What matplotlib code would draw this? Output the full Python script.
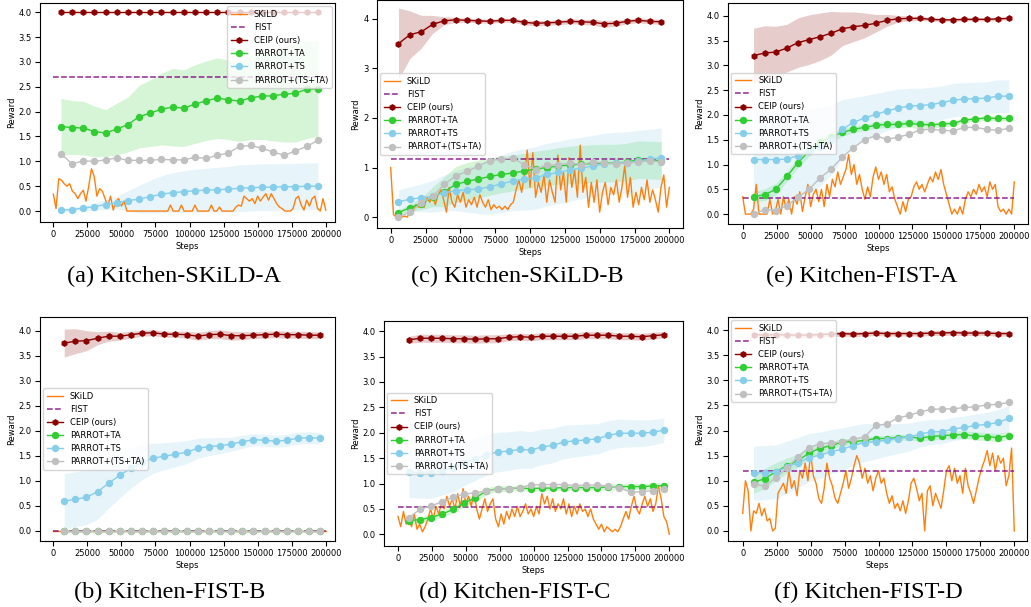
import matplotlib
matplotlib.use("Agg")
import matplotlib.pyplot as plt

# ---------------- data ----------------
steps_early = [5600, 13800, 22000, 30200, 38400, 46600, 54800, 63000, 71200, 79400,
               87600, 95800, 104000, 112200, 120400, 128600, 136800, 145000, 153200,
               161400, 169600, 177800, 186000, 194200]
steps_late = [8000, 16170, 24340, 32510, 40680, 48850, 57020, 65190, 73360, 81530,
              89700, 97870, 106040, 114210, 122380, 130550, 138720, 146890, 155060,
              163230, 171400, 179570, 187740, 195910]
skild_steps = list(range(0, 200001, 2000))
xticks = [0, 25000, 50000, 75000, 100000, 125000, 150000, 175000, 200000]

labels = ["SKiLD", "FIST", "CEIP (ours)", "PARROT+TA", "PARROT+TS", "PARROT+(TS+TA)"]
captions = {"a": "(a) Kitchen-SKiLD-A", "b": "(b) Kitchen-FIST-B", "c": "(c) Kitchen-SKiLD-B",
            "d": "(d) Kitchen-FIST-C", "e": "(e) Kitchen-FIST-A", "f": "(f) Kitchen-FIST-D"}

# ---- panel a: Kitchen-SKiLD-A
fist_a = 2.7
ceip_a = [4.0] * 24
ceip_a_std = [0.0] * 24
ta_a = [1.70, 1.68, 1.67, 1.60, 1.57, 1.65, 1.74, 1.90, 1.97, 2.05, 2.09, 2.07, 2.15, 2.22,
        2.27, 2.24, 2.21, 2.28, 2.31, 2.32, 2.35, 2.37, 2.45, 2.46]
ta_a_std = [0.57, 0.54, 0.54, 0.51, 0.47, 0.52, 0.55, 0.63, 0.67, 0.72, 0.78, 0.77, 0.79, 0.80,
            0.81, 0.80, 0.81, 0.84, 0.87, 0.91, 0.96, 0.98, 0.99, 0.96]
ts_a = [0.02, 0.03, 0.06, 0.09, 0.13, 0.17, 0.21, 0.24, 0.29, 0.34, 0.37, 0.39, 0.41, 0.42,
        0.43, 0.44, 0.46, 0.47, 0.48, 0.48, 0.49, 0.49, 0.50, 0.50]
ts_a_std = [0.03, 0.04, 0.05, 0.07, 0.10, 0.13, 0.20, 0.28, 0.33, 0.37, 0.40, 0.42, 0.43, 0.44,
            0.45, 0.46, 0.47, 0.47, 0.47, 0.47, 0.47, 0.47, 0.47, 0.47]
tsta_a = [1.15, 0.95, 1.01, 1.00, 1.03, 1.07, 1.02, 1.02, 1.02, 1.04, 1.03, 1.03, 1.08, 1.06,
          1.12, 1.17, 1.30, 1.32, 1.26, 1.19, 1.12, 1.21, 1.30, 1.42]
skild_a = [0.34, 0.05, 0.65, 0.62, 0.55, 0.50, 0.55, 0.40, 0.35, 0.25,
           0.35, 0.42, 0.20, 0.50, 0.85, 0.70, 0.30, 0.45, 0.40, 0.25,
           0.10, 0.30, 0.02, 0.20, 0.25, 0.10, 0.20, 0.0, 0.0, 0.0,
           0.0, 0.0, 0.0, 0.0, 0.0, 0.0, 0.0, 0.0, 0.0, 0.0,
           0.0, 0.0, 0.0, 0.12, 0.0, 0.0, 0.0, 0.12, 0.0, 0.0,
           0.0, 0.0, 0.12, 0.0, 0.0, 0.0, 0.0, 0.0, 0.12, 0.0,
           0.0, 0.08, 0.0, 0.0, 0.0, 0.0, 0.0, 0.08, 0.12, 0.10,
           0.30, 0.25, 0.20, 0.25, 0.15, 0.30, 0.20, 0.28, 0.35, 0.22,
           0.35, 0.25, 0.15, 0.08, 0.05, 0.0, 0.0, 0.0, 0.05, 0.25,
           0.30, 0.12, 0.02, 0.22, 0.10, 0.25, 0.30, 0.05, 0.0, 0.25,
           0.02]

# ---- panel c: Kitchen-SKiLD-B
fist_c = 1.17
ceip_c = [3.50, 3.68, 3.74, 3.89, 3.96, 3.98, 3.97, 3.96, 3.95, 3.97, 3.97, 3.93, 3.91, 3.92,
          3.93, 3.95, 3.94, 3.93, 3.90, 3.91, 3.95, 3.97, 3.95, 3.94]
ceip_c_std = [0.72, 0.48, 0.33, 0.18, 0.08, 0.05, 0.04, 0.04, 0.04, 0.04, 0.04, 0.05, 0.05, 0.05,
              0.05, 0.05, 0.05, 0.06, 0.07, 0.06, 0.05, 0.05, 0.05, 0.05]
ta_c = [0.09, 0.19, 0.27, 0.41, 0.51, 0.66, 0.72, 0.77, 0.82, 0.86, 0.89, 0.93, 0.97, 1.00,
        1.03, 1.05, 1.07, 1.08, 1.09, 1.09, 1.11, 1.16, 1.15, 1.14]
ta_c_std = [0.05, 0.08, 0.12, 0.20, 0.30, 0.36, 0.38, 0.38, 0.38, 0.37, 0.36, 0.36, 0.36, 0.36,
            0.37, 0.38, 0.38, 0.38, 0.38, 0.38, 0.38, 0.38, 0.38, 0.38]
ts_c = [0.31, 0.36, 0.39, 0.42, 0.49, 0.53, 0.55, 0.57, 0.61, 0.67, 0.73, 0.76, 0.79, 0.86,
        0.90, 0.95, 0.99, 1.03, 1.07, 1.09, 1.10, 1.13, 1.17, 1.20]
ts_c_std = [0.24, 0.25, 0.28, 0.32, 0.36, 0.40, 0.45, 0.50, 0.55, 0.58, 0.60, 0.62, 0.63, 0.63,
            0.63, 0.63, 0.62, 0.62, 0.62, 0.62, 0.62, 0.62, 0.60, 0.60]
tsta_c = [0.0, 0.10, 0.28, 0.42, 0.66, 0.83, 0.92, 1.03, 1.14, 1.17, 1.19, 1.06, 0.96, 1.06,
          1.05, 1.09, 1.06, 1.11, 1.09, 1.07, 1.09, 1.11, 1.14, 1.11]
skild_c = [1.0, 0.05, 0.0, 0.05, 0.0, 0.02, 0.0, 0.15, 0.10, 0.25,
           0.20, 0.35, 0.20, 0.40, 0.30, 0.45, 0.25, 0.45, 0.55, 0.35,
           0.10, 0.60, 0.30, 0.20, 0.45, 0.30, 0.50, 0.20, 0.35, 0.25,
           0.40, 0.20, 0.45, 0.30, 0.20, 0.35, 0.15, 0.25, 0.18, 0.22,
           0.15, 0.22, 0.15, 0.25, 0.30, 0.55, 0.75, 0.50, 0.85, 1.35,
           0.60, 1.30, 0.40, 0.70, 0.50, 0.85, 0.30, 0.75, 0.50, 0.30,
           1.25, 0.55, 0.90, 0.30, 1.20, 0.60, 0.95, 0.40, 1.45, 0.50,
           0.80, 0.20, 0.70, 0.30, 0.75, 0.10, 0.50, 0.70, 0.25, 0.60,
           0.45, 0.75, 0.30, 0.60, 1.05, 0.40, 0.80, 0.20, 0.50, 0.25,
           0.60, 0.35, 0.75, 0.30, 0.55, 0.35, 0.10, 0.60, 0.85, 0.20,
           0.60]

# ---- panel e: Kitchen-FIST-A
fist_e = 0.33
ceip_e = [3.20, 3.25, 3.27, 3.35, 3.46, 3.52, 3.58, 3.65, 3.74, 3.78, 3.81, 3.85, 3.91, 3.94,
          3.95, 3.95, 3.93, 3.92, 3.92, 3.93, 3.93, 3.93, 3.94, 3.95]
ceip_e_std = [0.55, 0.55, 0.52, 0.48, 0.50, 0.50, 0.48, 0.44, 0.34, 0.30, 0.25, 0.18, 0.12, 0.07,
              0.05, 0.04, 0.04, 0.03, 0.03, 0.03, 0.03, 0.03, 0.03, 0.03]
ta_e = [0.35, 0.39, 0.50, 0.76, 1.04, 1.27, 1.45, 1.55, 1.65, 1.71, 1.75, 1.79, 1.81, 1.81,
        1.83, 1.81, 1.80, 1.82, 1.83, 1.90, 1.92, 1.94, 1.93, 1.93]
ta_e_std = [0.10, 0.12, 0.12, 0.10, 0.10, 0.10, 0.10, 0.10, 0.08, 0.07, 0.06, 0.06, 0.07, 0.07,
            0.08, 0.08, 0.07, 0.06, 0.05, 0.05, 0.05, 0.05, 0.05, 0.05]
ts_e = [1.10, 1.10, 1.10, 1.11, 1.18, 1.27, 1.36, 1.50, 1.71, 1.85, 1.94, 2.01, 2.08, 2.14,
        2.18, 2.19, 2.21, 2.25, 2.30, 2.32, 2.33, 2.34, 2.38, 2.38]
ts_e_std = [1.00, 1.00, 1.00, 0.95, 0.90, 0.85, 0.80, 0.70, 0.60, 0.50, 0.45, 0.42, 0.40, 0.38,
            0.36, 0.35, 0.35, 0.34, 0.34, 0.33, 0.33, 0.33, 0.33, 0.33]
tsta_e = [0.0, 0.09, 0.07, 0.17, 0.34, 0.50, 0.73, 0.91, 1.15, 1.34, 1.50, 1.58, 1.51, 1.55,
          1.61, 1.70, 1.71, 1.69, 1.68, 1.75, 1.75, 1.71, 1.69, 1.73]
skild_e = [0.35, 0.0, 0.0, 0.0, 0.10, 0.60, 0.0, 0.0, 0.0, 0.0,
           0.30, 0.0, 0.05, 0.30, 0.0, 0.35, 0.10, 0.30, 0.0, 0.35,
           0.20, 0.45, 0.05, 0.35, 0.60, 0.15, 0.40, 0.50, 0.25, 0.50,
           0.15, 0.60, 0.35, 0.70, 0.55, 0.85, 0.60, 0.75, 0.90, 1.20,
           0.80, 1.00, 0.60, 0.80, 0.50, 0.30, 0.55, 0.35, 0.75, 0.95,
           0.70, 0.85, 0.60, 0.80, 0.45, 0.55, 0.30, 0.15, 0.0, 0.25,
           0.05, 0.30, 0.35, 0.55, 0.65, 0.50, 0.60, 0.45, 0.60, 0.75,
           0.65, 0.85, 0.70, 0.90, 0.60, 0.40, 0.20, 0.0, 0.10, 0.0,
           0.15, 0.0, 0.30, 0.45, 0.35, 0.50, 0.40, 0.60, 0.45, 0.55,
           0.35, 0.65, 0.50, 0.60, 0.15, 0.05, 0.10, 0.0, 0.10, 0.0,
           0.65]

# ---- panel b: Kitchen-FIST-B
fist_b = 0.0
ceip_b = [3.75, 3.79, 3.80, 3.85, 3.89, 3.89, 3.92, 3.95, 3.96, 3.93, 3.93, 3.92, 3.89, 3.92,
          3.93, 3.90, 3.90, 3.91, 3.92, 3.93, 3.92, 3.92, 3.91, 3.91]
ceip_b_std = [0.28, 0.25, 0.20, 0.13, 0.10, 0.08, 0.07, 0.06, 0.06, 0.06, 0.06, 0.07, 0.08, 0.08,
              0.09, 0.09, 0.08, 0.07, 0.07, 0.07, 0.07, 0.07, 0.07, 0.07]
ta_b = [0.0] * 24
ta_b_std = [0.0] * 24
ts_b = [0.59, 0.63, 0.67, 0.78, 0.95, 1.11, 1.25, 1.37, 1.45, 1.49, 1.53, 1.57, 1.65, 1.68,
        1.70, 1.73, 1.78, 1.82, 1.81, 1.79, 1.81, 1.85, 1.86, 1.85]
ts_b_std = [0.55, 0.55, 0.55, 0.55, 0.50, 0.45, 0.40, 0.35, 0.30, 0.27, 0.25, 0.23, 0.20, 0.18,
            0.16, 0.14, 0.13, 0.12, 0.12, 0.12, 0.12, 0.12, 0.12, 0.11]
tsta_b = [0.0] * 24
skild_b = [0.0] * 101

# ---- panel d: Kitchen-FIST-C
fist_d = 0.53
ceip_d = [3.83, 3.86, 3.86, 3.86, 3.85, 3.85, 3.84, 3.85, 3.85, 3.88, 3.89, 3.88, 3.90, 3.90,
          3.90, 3.90, 3.92, 3.92, 3.92, 3.90, 3.90, 3.89, 3.91, 3.93]
ceip_d_std = [0.07, 0.08, 0.08, 0.08, 0.08, 0.08, 0.08, 0.08, 0.08, 0.07, 0.07, 0.07, 0.07, 0.07,
              0.07, 0.07, 0.07, 0.07, 0.07, 0.07, 0.07, 0.07, 0.07, 0.06]
ta_d = [0.27, 0.29, 0.33, 0.40, 0.49, 0.62, 0.72, 0.85, 0.90, 0.90, 0.91, 0.90, 0.91, 0.91,
        0.92, 0.92, 0.92, 0.92, 0.93, 0.94, 0.94, 0.94, 0.95, 0.96]
ta_d_std = [0.06, 0.06, 0.06, 0.07, 0.07, 0.08, 0.08, 0.07, 0.06, 0.05, 0.05, 0.05, 0.05, 0.05,
            0.05, 0.05, 0.05, 0.05, 0.06, 0.06, 0.06, 0.06, 0.06, 0.06]
ts_d = [1.23, 1.21, 1.21, 1.25, 1.30, 1.40, 1.48, 1.57, 1.62, 1.64, 1.67, 1.66, 1.72, 1.75,
        1.82, 1.84, 1.86, 1.88, 1.95, 1.99, 1.99, 1.99, 2.01, 2.05]
ts_d_std = [0.50, 0.50, 0.50, 0.48, 0.46, 0.44, 0.42, 0.40, 0.39, 0.38, 0.37, 0.36, 0.35, 0.34,
            0.33, 0.32, 0.31, 0.30, 0.29, 0.28, 0.27, 0.26, 0.25, 0.24]
tsta_d = [0.33, 0.49, 0.56, 0.64, 0.74, 0.79, 0.82, 0.85, 0.89, 0.90, 0.92, 0.97, 0.98, 0.98,
          0.98, 0.96, 0.97, 0.97, 0.95, 0.92, 0.83, 0.84, 0.86, 0.89]
skild_d = [0.35, 0.15, 0.45, 0.20, 0.30, 0.15, 0.40, 0.10, 0.20, 0.05,
           0.15, 0.30, 0.50, 0.30, 0.55, 0.40, 0.60, 0.50, 0.75, 0.55,
           0.70, 0.50, 0.80, 0.55, 0.90, 0.60, 0.75, 0.55, 0.85, 0.50,
           0.30, 0.50, 0.70, 0.45, 0.60, 0.70, 0.30, 0.15, 0.40, 0.20,
           0.45, 0.30, 0.50, 0.35, 0.55, 0.35, 0.45, 0.60, 0.40, 0.50,
           0.35, 0.55, 0.40, 0.80, 0.60, 0.75, 0.50, 0.70, 0.45, 0.60,
           0.50, 0.70, 0.40, 0.60, 0.35, 0.55, 0.40, 0.60, 0.45, 0.50,
           0.35, 0.50, 0.30, 0.20, 0.10, 0.20, 0.05, 0.15, 0.10, 0.05,
           0.10, 0.05, 0.15, 0.30, 0.45, 0.30, 0.55, 0.75, 0.50, 0.40,
           0.60, 0.75, 0.55, 0.70, 0.45, 0.60, 0.95, 0.70, 0.35, 0.25,
           0.0]

# ---- panel f: Kitchen-FIST-D
fist_f = 1.20
ceip_f = [3.91, 3.90, 3.91, 3.90, 3.90, 3.90, 3.91, 3.92, 3.93, 3.92, 3.93, 3.94, 3.93, 3.93,
          3.93, 3.93, 3.94, 3.94, 3.95, 3.94, 3.94, 3.94, 3.93, 3.93]
ceip_f_std = [0.05] * 24
ta_f = [0.97, 1.04, 1.18, 1.30, 1.40, 1.55, 1.65, 1.70, 1.77, 1.78, 1.80, 1.84, 1.84, 1.86,
        1.87, 1.85, 1.88, 1.90, 1.91, 1.92, 1.89, 1.88, 1.86, 1.90]
ta_f_std = [0.22, 0.20, 0.18, 0.15, 0.13, 0.12, 0.10, 0.08, 0.07, 0.06, 0.06, 0.06, 0.06, 0.06,
            0.06, 0.06, 0.07, 0.07, 0.08, 0.08, 0.08, 0.08, 0.08, 0.08]
ts_f = [1.15, 1.16, 1.18, 1.27, 1.36, 1.46, 1.51, 1.58, 1.63, 1.70, 1.76, 1.78, 1.81, 1.84,
        1.87, 1.93, 1.97, 1.98, 2.03, 2.06, 2.10, 2.12, 2.16, 2.24]
ts_f_std = [0.54, 0.54, 0.53, 0.52, 0.50, 0.48, 0.46, 0.44, 0.42, 0.40, 0.38, 0.35, 0.32, 0.30,
            0.28, 0.26, 0.25, 0.24, 0.23, 0.23, 0.23, 0.24, 0.25, 0.26]
tsta_f = [0.94, 0.89, 1.06, 1.25, 1.48, 1.66, 1.74, 1.75, 1.77, 1.83, 1.87, 2.10, 2.13, 2.25,
          2.30, 2.37, 2.42, 2.43, 2.43, 2.46, 2.47, 2.51, 2.52, 2.56]
skild_f = [0.35, 1.0, 0.80, 0.0, 0.40, 0.35, 0.55, 0.30, 0.45, 0.20,
           0.25, 0.0, 0.05, 0.75, 0.85, 0.95, 0.75, 1.20, 0.85, 1.00,
           0.70, 1.20, 1.05, 1.35, 1.00, 1.55, 1.10, 0.95, 0.65, 0.55,
           0.85, 1.35, 1.05, 0.90, 0.65, 0.55, 0.75, 0.95, 1.20, 0.85,
           1.05, 1.30, 1.50, 1.35, 1.05, 1.25, 0.95, 1.10, 0.80, 1.05,
           1.20, 0.95, 1.05, 0.75, 0.55, 0.70, 0.45, 0.55, 0.40, 0.60,
           0.35, 0.60, 0.95, 1.05, 0.85, 0.60, 0.75, 0.0, 0.80, 0.90,
           0.50, 0.75, 0.60, 0.45, 0.80, 1.20, 1.30, 1.00, 1.25, 0.95,
           1.10, 0.75, 1.25, 0.90, 0.75, 0.55, 0.80, 1.05, 1.25, 1.40,
           1.60, 1.30, 1.55, 1.20, 1.50, 1.35, 1.45, 0.90, 1.10, 1.65,
           0.0]

# ---------------- styling / layout ----------------
C_SKILD = "#ff7f0e"
C_FIST = "purple"
C_CEIP = "darkred"
C_TA = "limegreen"
C_TS = "skyblue"
C_TSTA = "silver"

W, H = 1031, 607
fig = plt.figure(figsize=(W / 100, H / 100), dpi=100)

panels = [
    ("a", steps_early, skild_a, fist_a, ceip_a, ceip_a_std, ta_a, ta_a_std, ts_a, ts_a_std, tsta_a,
     (40, 3, 335, 222), (-9770, 206800), (-0.22, 4.185), False, "upper right", (174, 282)),
    ("c", steps_early, skild_c, fist_c, ceip_c, ceip_c_std, ta_c, ta_c_std, ts_c, ts_c_std, tsta_c,
     (377, 0, 683, 228), (-9830, 209800), (-0.22, 4.38), True, "center left", (517, 282)),
    ("e", steps_late, skild_e, fist_e, ceip_e, ceip_e_std, ta_e, ta_e_std, ts_e, ts_e_std, tsta_e,
     (728, 3, 1028, 224), (-10830, 210090), (-0.2, 4.26), False, "center left", (862, 282)),
    ("b", steps_late, skild_b, fist_b, ceip_b, ceip_b_std, ta_b, ta_b_std, ts_b, ts_b_std, tsta_b,
     (40, 317, 335, 541), (-9770, 206800), (-0.206, 4.274), False, "center left", (170, 598)),
    ("d", steps_late, skild_d, fist_d, ceip_d, ceip_d_std, ta_d, ta_d_std, ts_d, ts_d_std, tsta_d,
     (384, 321, 683, 546), (-10320, 210100), (-0.23, 4.2), False, "center left", (515, 598)),
    ("f", steps_late, skild_f, fist_f, ceip_f, ceip_f_std, ta_f, ta_f_std, ts_f, ts_f_std, tsta_f,
     (728, 317, 1027, 541), (-10830, 209350), (-0.2, 4.26), False, "upper left", (868, 598)),
]


def band(ax, x, m, s, color):
    lo = [a - b for a, b in zip(m, s)]
    hi = [a + b for a, b in zip(m, s)]
    ax.fill_between(x, lo, hi, color=color, alpha=0.2, linewidth=0)


for (key, steps, skild, fist, ceip, ceip_std, ta, ta_std, ts, ts_std, tsta,
     rect, xlim, ylim, yint, loc, cap) in panels:
    l, t, r, b = rect
    ax = fig.add_axes([l / W, 1 - b / H, (r - l) / W, (b - t) / H])
    band(ax, steps, ceip, ceip_std, C_CEIP)
    band(ax, steps, ta, ta_std, C_TA)
    band(ax, steps, ts, ts_std, C_TS)
    ax.plot(skild_steps, skild, color=C_SKILD, lw=1.0, label=labels[0])
    ax.plot([0, 200000], [fist, fist], color=C_FIST, lw=1.1, ls="--", alpha=0.85, label=labels[1])
    ax.plot(steps, ceip, color=C_CEIP, lw=1.0, marker="h", ms=3.8, label=labels[2])
    ax.plot(steps, ta, color=C_TA, lw=1.0, marker="o", ms=4.3, label=labels[3])
    ax.plot(steps, ts, color=C_TS, lw=1.0, marker="o", ms=4.3, label=labels[4])
    ax.plot(steps, tsta, color=C_TSTA, lw=1.0, marker="o", ms=4.3, label=labels[5])
    ax.set_xlim(*xlim)
    ax.set_ylim(*ylim)
    ax.set_xticks(xticks)
    ax.set_xticklabels([str(v) for v in xticks])
    if yint:
        yt = [0, 1, 2, 3, 4]
        ax.set_yticks(yt)
        ax.set_yticklabels([str(v) for v in yt])
    else:
        yt = [0.0, 0.5, 1.0, 1.5, 2.0, 2.5, 3.0, 3.5, 4.0]
        ax.set_yticks(yt)
        ax.set_yticklabels(["%.1f" % v for v in yt])
    ax.tick_params(labelsize=6, length=3.5, width=0.8, pad=2.5)
    ax.set_xlabel("Steps", fontsize=6, labelpad=2)
    ax.set_ylabel("Reward", fontsize=6, labelpad=2)
    ax.legend(loc=loc, fontsize=6, borderaxespad=0.4)
    fig.text(cap[0] / W, 1 - cap[1] / H, captions[key], fontsize=17.5,
             family="Liberation Serif", ha="center", va="baseline")

fig.savefig("out.png", dpi=100)
